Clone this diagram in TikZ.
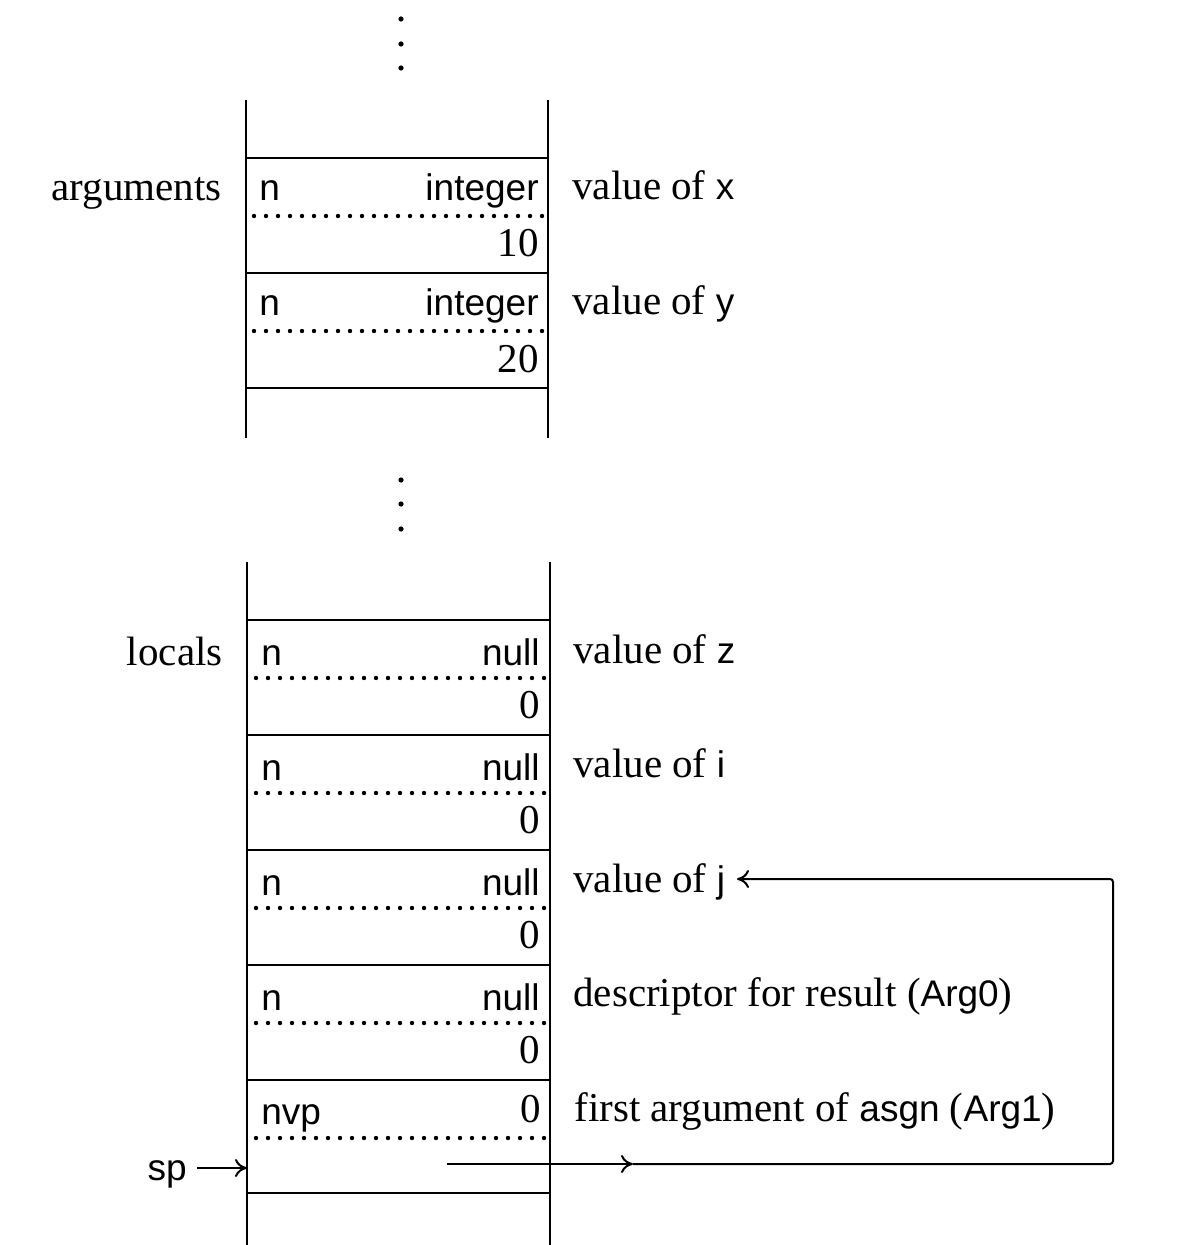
\documentclass[tikz,border=0pt]{standalone}
\usepackage{fontspec}
\setmainfont{Liberation Serif}
\setsansfont{Liberation Sans}
\usetikzlibrary{arrows.meta}
\newcommand\sersz{\fontsize{20.5}{24}\selectfont}
\newcommand\vn[1]{{\sffamily\fontsize{18.5}{22}\selectfont #1}}
\begin{document}
\begin{tikzpicture}[x=0.5pt,y=-0.5pt,
  stackline/.style={line width=1.2pt},
  dotline/.style={line width=2.2pt,dash pattern=on 0pt off 6pt,line cap=round},
  lbl/.style={inner sep=0pt,font=\sersz},
  fld/.style={inner sep=0pt,font=\sffamily\fontsize{18.5}{22}\selectfont},
  ptr/.style={line width=1pt,-{To[length=6pt,width=9pt]}},
  vdot/.style={fill=black}]
\useasboundingbox (0,0) rectangle (1200,1245);
\fill[white] (0,0) rectangle (1200,1245);
% top ellipsis
\fill[vdot] (401,19) circle (1.3pt);
\fill[vdot] (401,44) circle (1.3pt);
\fill[vdot] (401,68) circle (1.3pt);
% top stack
\draw[stackline] (246,100) -- (246,438);
\draw[stackline] (548,100) -- (548,438);
\foreach \yy in {158,273,388} \draw[stackline] (246,\yy) -- (548,\yy);
\node[lbl,anchor=base east] (args) at (222,201) {arguments};
% row x
\node[fld,anchor=base west] (xn) at (259,201) {n};
\node[fld,anchor=base east] (xt) at (539,201) {integer};
\draw[dotline] (254,216) -- (546,216);
\node[lbl,anchor=base east] (xv) at (539,257) {10};
\node[lbl,anchor=base west] (xd) at (572,200) {value of \vn{x}};
% row y
\node[fld,anchor=base west] (yn) at (259,316) {n};
\node[fld,anchor=base east] (yt) at (539,316) {integer};
\draw[dotline] (254,331) -- (546,331);
\node[lbl,anchor=base east] (yv) at (539,372) {20};
\node[lbl,anchor=base west] (yd) at (572,315) {value of \vn{y}};
% middle ellipsis
\fill[vdot] (401,480) circle (1.3pt);
\fill[vdot] (401,504) circle (1.3pt);
\fill[vdot] (401,529) circle (1.3pt);
% bottom stack
\draw[stackline] (247,562) -- (247,1245);
\draw[stackline] (550,562) -- (550,1245);
\foreach \yy in {620,735,850,965,1080,1193} \draw[stackline] (247,\yy) -- (550,\yy);
\node[lbl,anchor=base east] (locs) at (223,665) {locals};
% row z
\node[fld,anchor=base west] (zn) at (261,665) {n};
\node[fld,anchor=base east] (zt) at (540,665) {null};
\draw[dotline] (256,678) -- (548,678);
\node[lbl,anchor=base east] (zv) at (540,718) {0};
\node[lbl,anchor=base west] (zd) at (573,663) {value of \vn{z}};
% row i
\node[fld,anchor=base west] (in) at (261,780) {n};
\node[fld,anchor=base east] (it) at (540,780) {null};
\draw[dotline] (256,793) -- (548,793);
\node[lbl,anchor=base east] (iv) at (540,833) {0};
\node[lbl,anchor=base west] (id) at (573,777) {value of \vn{i}};
% row j
\node[fld,anchor=base west] (jn) at (261,895) {n};
\node[fld,anchor=base east] (jt) at (540,895) {null};
\draw[dotline] (256,908) -- (548,908);
\node[lbl,anchor=base east] (jv) at (540,948) {0};
\node[lbl,anchor=base west] (jd) at (573,892) {value of \vn{j}};
% row Arg0
\node[fld,anchor=base west] (rn) at (261,1010) {n};
\node[fld,anchor=base east] (rt) at (540,1010) {null};
\draw[dotline] (256,1023) -- (548,1023);
\node[lbl,anchor=base east] (rv) at (540,1063) {0};
\node[lbl,anchor=base west] (rd) at (573,1006) {descriptor for result (\vn{Arg0})};
% row Arg1
\node[fld,anchor=base west] (an) at (261,1124) {nvp};
\node[lbl,anchor=base east] (av) at (541,1122) {0};
\draw[dotline] (256,1138) -- (548,1138);
\node[lbl,anchor=base west] (ad) at (574,1121) {first argument of \vn{asgn} (\vn{Arg1})};
% sp
\node[fld,anchor=base east] (sp) at (187,1180) {sp};
\coordinate (spfrom) at (197,1168);
\coordinate (spto) at (247,1168);
\draw[ptr] (spfrom) -- (spto);
% pointer
\coordinate (pA) at (447,1164);
\coordinate (pB) at (633,1164);
\coordinate (pC) at (1113,1164);
\coordinate (pD) at (1113,879);
\coordinate (pE) at (737,879);
\draw[ptr] (pA) -- (pB);
\draw[ptr,rounded corners=1.5pt] (pB) -- (pC) -- (pD) -- (pE);
\end{tikzpicture}
\end{document}
